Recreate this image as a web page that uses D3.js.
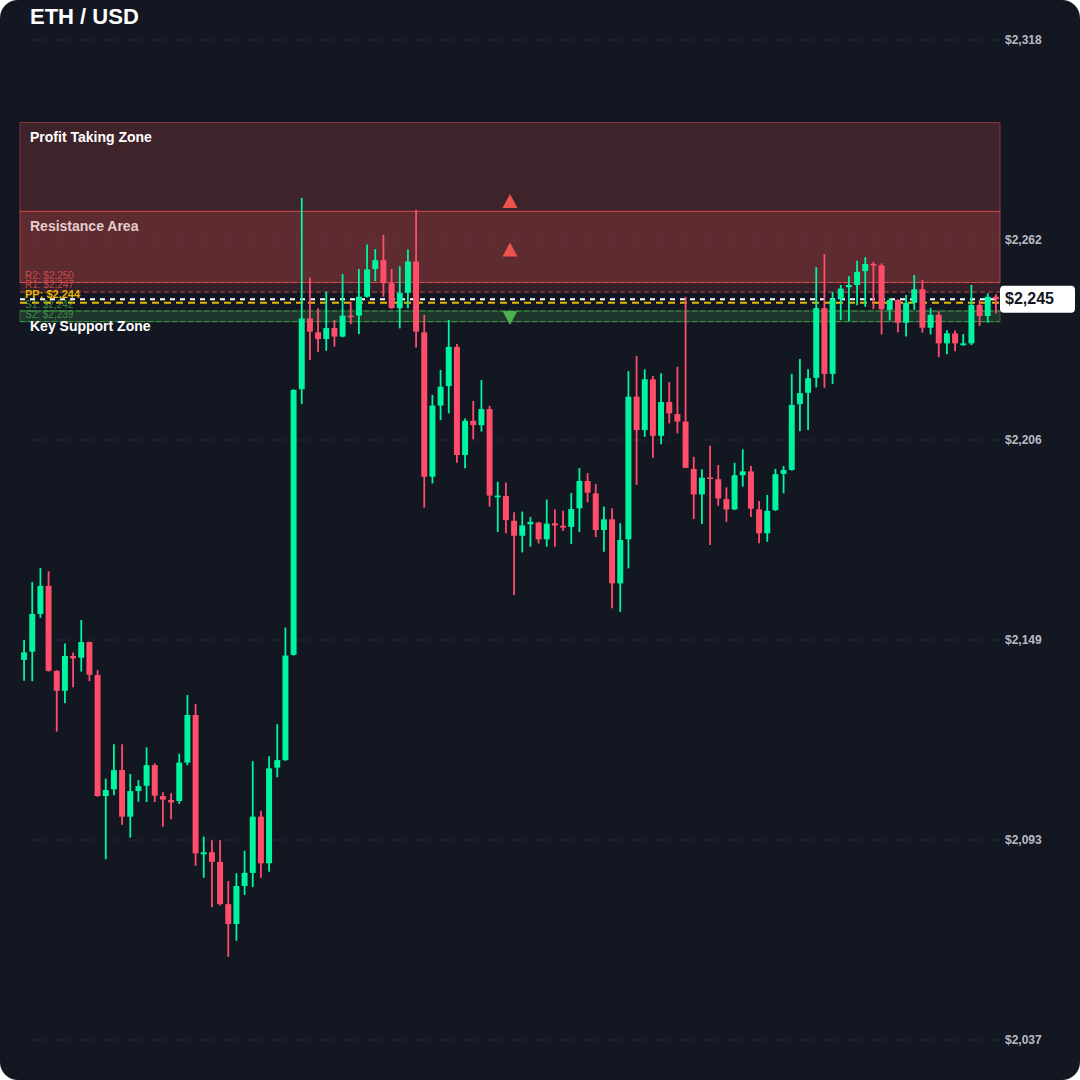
<!DOCTYPE html>
<html>
<head>
<meta charset="utf-8">
<script src="https://cdn.jsdelivr.net/npm/d3@7"></script>
<style>
  html, body { margin: 0; padding: 0; background: #ffffff; }
  #chart { width: 1080px; height: 1080px; }
  svg { display: block; }
</style>
</head>
<body>
<div id="chart"></div>
<script>
// ETH / USD candles (price in USD), oldest first
const candleOpen = [
  2143.9, 2146.2, 2156.8, 2164.7, 2140.8, 2135.2, 2145.0, 2144.5, 2148.9, 2139.6,
  2105.6, 2107.5, 2112.9, 2099.8, 2107.0, 2108.5, 2114.3, 2105.6, 2104.5, 2104.2,
  2115.0, 2128.4, 2089.2, 2089.8, 2087.1, 2075.2, 2069.6, 2080.3, 2084.0, 2099.8,
  2086.7, 2113.6, 2115.7, 2145.3, 2220.0, 2239.9, 2236.0, 2234.1, 2237.2, 2234.8,
  2240.7, 2240.7, 2246.0, 2253.8, 2256.3, 2249.8, 2242.8, 2247.1, 2255.9, 2236.0,
  2195.4, 2215.4, 2220.9, 2231.9, 2201.5, 2211.1, 2209.9, 2214.4, 2189.6, 2190.0,
  2183.0, 2178.8, 2182.0, 2182.5, 2177.8, 2182.3, 2181.6, 2181.3, 2186.5, 2194.2,
  2190.7, 2180.4, 2183.4, 2165.4, 2177.8, 2217.9, 2208.5, 2222.8, 2206.9, 2216.4,
  2213.0, 2210.9, 2197.6, 2190.4, 2195.2, 2194.7, 2189.1, 2186.2, 2195.8, 2196.9,
  2186.2, 2179.5, 2186.0, 2196.2, 2197.3, 2215.8, 2219.0, 2223.2, 2242.8, 2224.3,
  2245.3, 2248.7, 2249.3, 2253.2, 2255.2, 2254.8, 2242.3, 2245.1, 2238.7, 2244.3,
  2248.1, 2237.3, 2240.9, 2232.9, 2235.7, 2232.4, 2232.9, 2243.7, 2240.6, 2246.0
];
const candleHigh = [
  2149.5, 2165.8, 2169.7, 2168.8, 2141.0, 2148.5, 2146.0, 2155.1, 2149.0, 2141.0,
  2110.5, 2120.2, 2120.2, 2111.8, 2110.1, 2119.3, 2114.8, 2106.7, 2106.4, 2117.5,
  2134.0, 2131.5, 2094.2, 2093.2, 2093.2, 2081.7, 2083.9, 2090.2, 2115.4, 2101.5,
  2116.8, 2125.8, 2153.0, 2220.0, 2273.8, 2251.4, 2242.8, 2247.4, 2239.5, 2252.4,
  2244.6, 2253.8, 2260.7, 2259.4, 2263.4, 2253.8, 2254.6, 2259.3, 2270.5, 2240.9,
  2218.4, 2225.4, 2239.5, 2232.7, 2211.8, 2216.7, 2222.6, 2215.3, 2194.0, 2193.8,
  2185.4, 2185.6, 2184.1, 2182.7, 2189.0, 2186.2, 2185.8, 2190.8, 2197.8, 2196.4,
  2193.3, 2187.0, 2186.5, 2182.3, 2225.1, 2229.3, 2225.6, 2223.7, 2224.5, 2222.0,
  2226.3, 2246.0, 2201.0, 2197.5, 2204.1, 2198.7, 2192.4, 2199.3, 2203.1, 2198.4,
  2188.6, 2190.3, 2197.6, 2198.4, 2224.3, 2228.5, 2225.6, 2254.3, 2258.0, 2247.4,
  2249.3, 2251.8, 2256.1, 2257.1, 2255.8, 2255.4, 2245.6, 2245.3, 2246.5, 2252.1,
  2250.7, 2242.9, 2242.0, 2236.6, 2236.5, 2235.5, 2249.3, 2245.1, 2247.0, 2246.7
];
const candleLow = [
  2138.0, 2137.9, 2155.7, 2140.6, 2123.7, 2131.7, 2136.2, 2140.6, 2137.9, 2105.4,
  2087.8, 2105.8, 2097.5, 2093.9, 2104.0, 2103.9, 2103.9, 2097.0, 2099.1, 2103.4,
  2114.3, 2086.0, 2082.6, 2074.3, 2074.8, 2060.4, 2064.9, 2077.8, 2080.0, 2082.6,
  2084.3, 2110.9, 2115.5, 2145.1, 2215.8, 2228.2, 2230.5, 2230.8, 2232.0, 2234.6,
  2238.3, 2235.5, 2245.8, 2250.4, 2246.0, 2242.6, 2237.1, 2242.8, 2231.7, 2186.7,
  2193.5, 2211.3, 2213.2, 2199.3, 2197.8, 2205.9, 2208.1, 2187.0, 2179.8, 2179.5,
  2162.1, 2174.1, 2175.7, 2176.6, 2175.7, 2175.7, 2180.1, 2176.5, 2179.8, 2188.2,
  2178.4, 2174.3, 2158.4, 2157.4, 2169.6, 2193.1, 2206.6, 2200.7, 2204.5, 2210.4,
  2207.6, 2197.8, 2183.5, 2182.1, 2176.2, 2187.2, 2182.7, 2186.0, 2192.6, 2184.1,
  2176.7, 2177.1, 2185.8, 2190.7, 2197.1, 2208.2, 2208.5, 2220.5, 2220.4, 2221.5,
  2239.5, 2239.2, 2243.6, 2243.2, 2242.5, 2235.4, 2239.3, 2236.0, 2234.8, 2242.3,
  2235.9, 2235.4, 2229.0, 2229.8, 2230.7, 2232.2, 2232.4, 2237.8, 2238.7, 2241.3
];
const candleClose = [
  2146.0, 2156.8, 2164.7, 2140.8, 2135.2, 2145.0, 2144.3, 2148.9, 2139.7, 2105.6,
  2107.3, 2112.9, 2099.8, 2107.0, 2108.4, 2114.3, 2105.7, 2104.6, 2103.8, 2115.0,
  2128.4, 2089.5, 2089.8, 2087.1, 2075.2, 2069.6, 2080.3, 2084.0, 2099.8, 2086.7,
  2113.4, 2115.7, 2145.1, 2219.8, 2239.9, 2236.2, 2234.1, 2237.2, 2234.8, 2240.7,
  2240.3, 2246.0, 2253.7, 2256.3, 2249.8, 2242.8, 2247.1, 2255.9, 2236.2, 2195.4,
  2215.4, 2220.7, 2231.9, 2201.5, 2211.1, 2209.9, 2214.4, 2190.1, 2190.1, 2183.2,
  2178.8, 2181.7, 2182.7, 2177.8, 2182.2, 2181.7, 2181.1, 2186.3, 2194.2, 2190.9,
  2180.4, 2183.4, 2165.4, 2177.6, 2217.9, 2208.5, 2222.8, 2206.9, 2216.4, 2213.2,
  2210.9, 2197.9, 2190.4, 2195.1, 2194.8, 2189.3, 2186.2, 2195.8, 2196.9, 2186.4,
  2179.5, 2185.8, 2196.1, 2197.3, 2215.6, 2218.9, 2223.1, 2242.8, 2224.3, 2245.3,
  2248.3, 2249.3, 2253.0, 2255.2, 2254.8, 2242.5, 2245.1, 2238.7, 2244.3, 2248.1,
  2237.3, 2240.9, 2232.9, 2235.7, 2232.9, 2232.9, 2243.7, 2240.6, 2246.0, 2245.3
];

// Price axis ticks (USD)
const tickValues = [2318.2, 2261.96, 2205.72, 2149.48, 2093.24, 2037.0];

// Shaded price zones
const zoneNames = ["Profit Taking Zone", "Resistance Area", "Key Support Zone"];
const zoneLow   = [2270, 2250, 2239];
const zoneHigh  = [2295, 2270, 2242];

// Pivot levels
const pivotNames  = ["R2", "R1", "PP", "S1", "S2"];
const pivotValues = [2250, 2247.3, 2244.3, 2242, 2239];

// Direction markers
const markerPrices = [2272.9, 2259.3, 2240.0];
const markerDirs   = ["up", "up", "down"];

const lastPrice = 2245.3;

// ---------------------------------------------------------------
const W = 1080, H = 1080;
const plot = { left: 20, right: 1000, top: 40, bottom: 1040 };
const BG = "#131722";
const UP = "#00f5a0", DOWN = "#ff4d6a";
const FONT = "'Liberation Sans', Arial, Helvetica, sans-serif";

const candles = candleOpen.map((o, i) => ({
  i, o, h: candleHigh[i], l: candleLow[i], c: candleClose[i]
}));

const svg = d3.select("#chart").append("svg")
  .attr("width", W).attr("height", H)
  .style("font-family", FONT);

svg.append("rect")
  .attr("width", W).attr("height", H)
  .attr("rx", 18).attr("ry", 18)
  .attr("fill", BG);

const x = d3.scaleBand()
  .domain(d3.range(candles.length))
  .range([plot.left, plot.right])
  .paddingInner(0.27)
  .paddingOuter(0.135);

const y = d3.scaleLinear()
  .domain([2037.0, 2318.2])
  .range([plot.bottom, plot.top]);

const fmt = v => "$" + d3.format(",")(Math.round(v));

// grid + right-hand price labels
const grid = svg.append("g");
grid.selectAll("line").data(tickValues).join("line")
  .attr("x1", plot.left).attr("x2", plot.right)
  .attr("y1", d => y(d)).attr("y2", d => y(d))
  .attr("stroke", "#2a2f3b").attr("stroke-width", 1)
  .attr("stroke-dasharray", "3,3");

const axis = d3.axisRight(y).tickValues(tickValues).tickFormat(fmt).tickSize(0).tickPadding(5);
const axisG = svg.append("g").attr("transform", `translate(${plot.right},0)`).call(axis);
axisG.select(".domain").remove();
axisG.selectAll("text")
  .attr("fill", "#b8bbc4")
  .attr("font-size", 12)
  .attr("font-weight", "bold")
  .attr("font-family", FONT);

// zones
const zoneFill   = ["rgba(239,83,80,0.20)", "rgba(239,83,80,0.34)", "rgba(76,175,80,0.20)"];
const zoneStroke = ["rgba(239,83,80,0.45)", "rgba(239,83,80,0.60)", "rgba(76,175,80,0.45)"];
const zoneText   = ["#ffffff", "rgba(255,235,235,0.85)", "#ffffff"];

const zonesG = svg.append("g");
zoneNames.forEach((name, k) => {
  zonesG.append("rect")
    .attr("x", plot.left).attr("width", plot.right - plot.left)
    .attr("y", y(zoneHigh[k])).attr("height", y(zoneLow[k]) - y(zoneHigh[k]))
    .attr("fill", zoneFill[k]).attr("stroke", zoneStroke[k]).attr("stroke-width", 1);
});

// faint band between R1 and R2
zonesG.append("rect")
  .attr("x", plot.left).attr("width", plot.right - plot.left)
  .attr("y", y(pivotValues[0])).attr("height", y(pivotValues[1]) - y(pivotValues[0]))
  .attr("fill", "rgba(239,83,80,0.16)");

// pivot lines
const pivotColor = ["#ef5350", "#ef5350", "#e6b800", "#4caf50", "#4caf50"];
const pivotG = svg.append("g");
pivotNames.forEach((name, k) => {
  const isPP = name === "PP";
  pivotG.append("line")
    .attr("x1", plot.left).attr("x2", plot.right)
    .attr("y1", y(pivotValues[k])).attr("y2", y(pivotValues[k]))
    .attr("stroke", pivotColor[k])
    .attr("stroke-opacity", isPP ? 1 : 0.75)
    .attr("stroke-width", isPP ? 2 : 1)
    .attr("stroke-dasharray", isPP ? "7,5" : "5,3");
});

// last price line
svg.append("line")
  .attr("x1", plot.left).attr("x2", plot.right)
  .attr("y1", y(lastPrice)).attr("y2", y(lastPrice))
  .attr("stroke", "#ffffff").attr("stroke-width", 2)
  .attr("stroke-dasharray", "5,5");

// candles
const cg = svg.append("g");
const bw = x.bandwidth();
const col = d => d.c >= d.o ? UP : DOWN;
cg.selectAll("line.wick").data(candles).join("line")
  .attr("class", "wick")
  .attr("x1", d => x(d.i) + bw / 2).attr("x2", d => x(d.i) + bw / 2)
  .attr("y1", d => y(d.h)).attr("y2", d => y(d.l))
  .attr("stroke", col).attr("stroke-width", 1.8);
cg.selectAll("rect.body").data(candles).join("rect")
  .attr("class", "body")
  .attr("x", d => x(d.i)).attr("width", bw)
  .attr("y", d => y(Math.max(d.o, d.c)))
  .attr("height", d => Math.max(1.6, Math.abs(y(d.o) - y(d.c))))
  .attr("fill", col);

// pivot labels (small, stacked just above each level)
const labelG = svg.append("g");
const pivotLabelOffset = [4, 4, 5, 3, 4];
pivotNames.forEach((name, k) => {
  const isPP = name === "PP";
  labelG.append("text")
    .attr("x", 25).attr("y", y(pivotValues[k]) - pivotLabelOffset[k])
    .attr("fill", pivotColor[k])
    .attr("fill-opacity", isPP ? 1 : 0.75)
    .attr("font-size", isPP ? 11 : 10)
    .attr("font-weight", isPP ? "bold" : "normal")
    .text(`${name}: ${fmt(pivotValues[k])}`);
});

// zone labels
zoneNames.forEach((name, k) => {
  labelG.append("text")
    .attr("x", 30).attr("y", y(zoneHigh[k]) + 16)
    .attr("dominant-baseline", "middle")
    .attr("fill", zoneText[k])
    .attr("font-size", 14).attr("font-weight", "bold")
    .text(name);
});

// direction markers
const midX = (plot.left + plot.right) / 2;
markerPrices.forEach((p, k) => {
  const cy = y(p), hw = 7.5, hh = 7;
  const path = markerDirs[k] === "up"
    ? `M${midX},${cy - hh}L${midX + hw},${cy + hh}L${midX - hw},${cy + hh}Z`
    : `M${midX - hw},${cy - hh}L${midX + hw},${cy - hh}L${midX},${cy + hh}Z`;
  svg.append("path").attr("d", path)
    .attr("fill", markerDirs[k] === "up" ? "#ef5350" : "#4caf50");
});

// last price tag
const tagY = y(lastPrice);
svg.append("rect")
  .attr("x", plot.right).attr("y", tagY - 13.5)
  .attr("width", 75).attr("height", 27).attr("rx", 4)
  .attr("fill", "#ffffff");
svg.append("text")
  .attr("x", plot.right + 5).attr("y", tagY + 1)
  .attr("dominant-baseline", "middle")
  .attr("fill", BG).attr("font-size", 16).attr("font-weight", "bold")
  .text(fmt(lastPrice));

// title
svg.append("text")
  .attr("x", 30).attr("y", 18)
  .attr("dominant-baseline", "middle")
  .attr("fill", "#ffffff").attr("font-size", 22).attr("font-weight", "bold")
  .text("ETH / USD");
</script>
</body>
</html>
